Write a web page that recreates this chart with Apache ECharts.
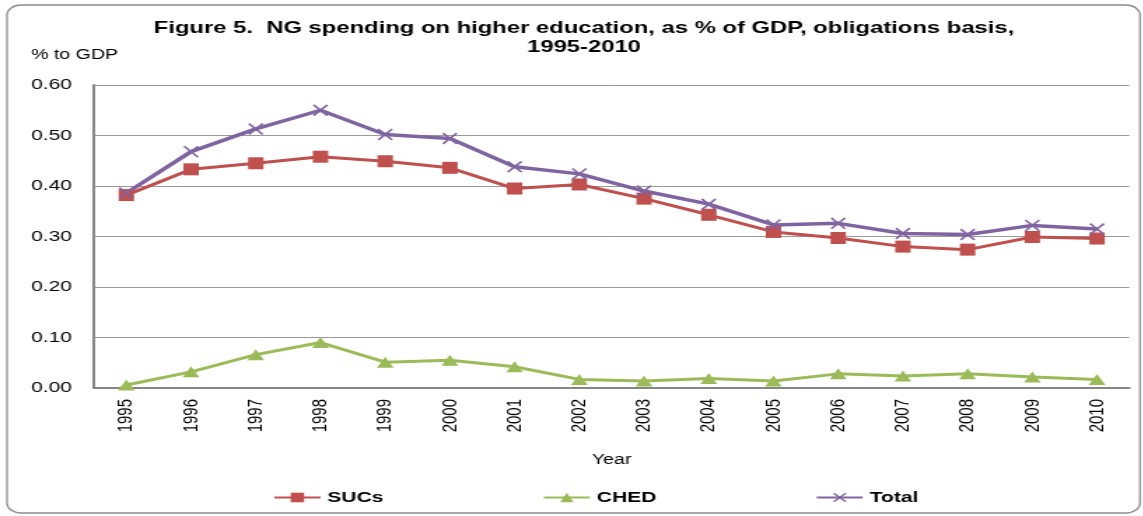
<!DOCTYPE html>
<html>
<head>
<meta charset="utf-8">
<script src="https://cdn.jsdelivr.net/npm/echarts@6/dist/echarts.min.js"></script>
<style>
    html, body {margin:0;padding:0;background:#fff;overflow:hidden;}
    /* the original picture is stretched sideways, so the chart is drawn narrow and widened */
    #chart {width:816px;height:516px;transform:scaleX(1.4);transform-origin:0 0;}
</style>
</head>
<body>
<div id="chart"></div>
<script>
    var years = ['1995','1996','1997','1998','1999','2000','2001','2002','2003','2004','2005','2006','2007','2008','2009','2010'];
    var sucs = [0.382, 0.433, 0.445, 0.458, 0.449, 0.436, 0.395, 0.403, 0.375, 0.343, 0.309, 0.297, 0.280, 0.274, 0.299, 0.296];
    var ched = [0.006, 0.032, 0.066, 0.090, 0.051, 0.055, 0.042, 0.017, 0.014, 0.019, 0.014, 0.028, 0.024, 0.028, 0.022, 0.017];
    var total = [0.386, 0.468, 0.513, 0.550, 0.502, 0.494, 0.438, 0.424, 0.390, 0.364, 0.323, 0.326, 0.306, 0.304, 0.322, 0.315];

    var SX = 1.4; // horizontal stretch
    // X marker drawn as a filled polygon
    var crossPath = 'path://M0,1L1,0L5,4L9,0L10,1L6,5L10,9L9,10L5,6L1,10L0,9L4,5Z';

    var chart = echarts.init(document.getElementById('chart'));
    var font = 'Liberation Sans, Arial, sans-serif';

    var option = {
        animation: false,
        textStyle: {fontFamily: font},
        graphic: [{
            type: 'rect',
            shape: {x: 7 / SX, y: 5, width: 1133 / SX, height: 508, r: 10},
            style: {fill: 'none', stroke: '#8c8c8c', lineWidth: 1.3},
            z: -1
        }],
        title: [{
            text: 'Figure 5.  NG spending on higher education, as % of GDP, obligations basis,\n1995-2010',
            left: 577 / SX,
            textAlign: 'center',
            top: 14,
            textStyle: {fontFamily: font, fontSize: 17, fontWeight: 'bold', color: '#000', lineHeight: 19}
        }, {
            text: '% to GDP',
            left: 24 / SX,
            top: 43,
            textStyle: {fontFamily: font, fontSize: 14, fontWeight: 'normal', color: '#000'}
        }],
        legend: {
            left: 266 / SX,
            top: 485,
            itemGap: 159 / SX,
            itemWidth: 46 / SX,
            itemHeight: 12,
            textStyle: {fontFamily: font, fontSize: 15, fontWeight: 'bold', color: '#000'},
            data: ['SUCs', 'CHED', 'Total']
        },
        grid: {left: 94 / SX, right: 13 / SX, top: 85, bottom: 128, containLabel: false},
        xAxis: {
            type: 'category',
            data: years,
            boundaryGap: true,
            name: 'Year',
            nameLocation: 'middle',
            nameGap: 65,
            nameTextStyle: {fontFamily: font, fontSize: 14, color: '#000'},
            axisLine: {lineStyle: {color: '#868686', width: 2}},
            axisTick: {show: false},
            axisLabel: {rotate: 90, fontSize: 15, color: '#000', margin: 11, fontFamily: font}
        },
        yAxis: {
            type: 'value',
            min: 0,
            max: 0.6,
            interval: 0.1,
            axisLine: {show: true, lineStyle: {color: '#868686', width: 2}},
            axisTick: {show: false},
            splitLine: {lineStyle: {color: '#9a9a9a', width: 1}},
            axisLabel: {
                fontSize: 15, color: '#000', margin: 22 / SX, fontFamily: font,
                formatter: function (v) { return v.toFixed(2); }
            }
        },
        series: [{
            name: 'SUCs',
            type: 'line',
            data: sucs,
            symbol: 'rect',
            symbolSize: [11, 12],
            lineStyle: {color: '#C0504D', width: 3},
            itemStyle: {color: '#C0504D'}
        }, {
            name: 'CHED',
            type: 'line',
            data: ched,
            symbol: 'triangle',
            symbolSize: [12, 11],
            lineStyle: {color: '#9BBB59', width: 3},
            itemStyle: {color: '#9BBB59'}
        }, {
            name: 'Total',
            type: 'line',
            data: total,
            symbol: crossPath,
            symbolSize: [11, 12],
            lineStyle: {color: '#8064A2', width: 3.5},
            itemStyle: {color: '#8064A2'}
        }]
    };
    chart.setOption(option);
</script>
</body>
</html>
